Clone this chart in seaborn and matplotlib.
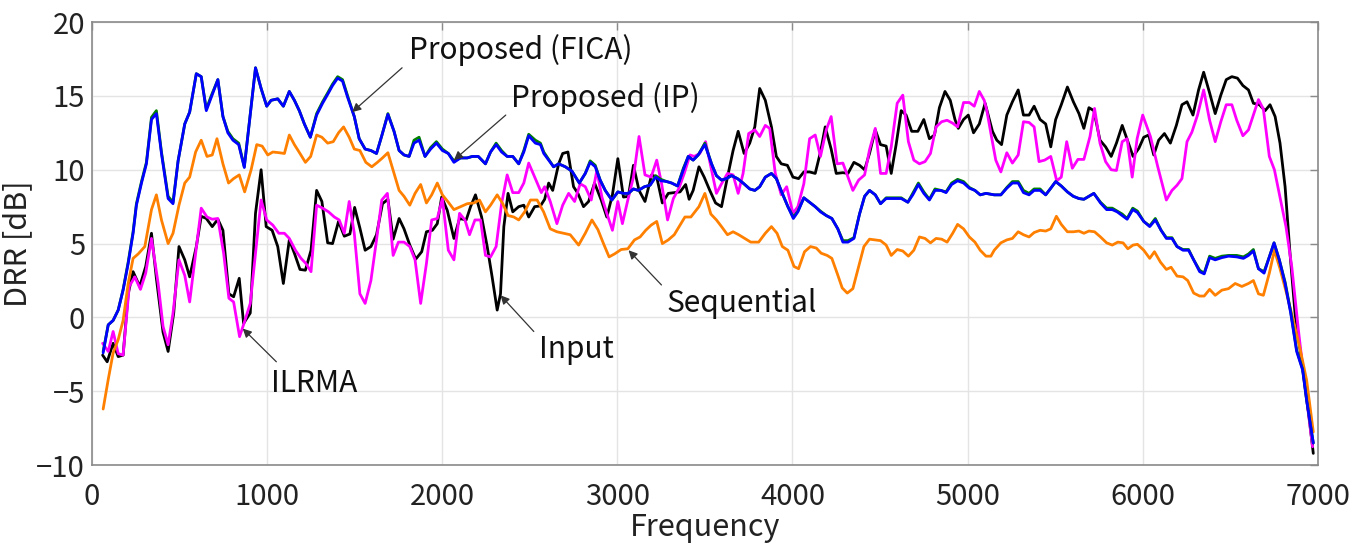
import numpy as np
import pandas as pd
import matplotlib
matplotlib.use("Agg")
import matplotlib.pyplot as plt
import seaborn as sns

# ---------------- data ----------------
freq_fica = [64, 93, 121, 150, 178, 207, 235, 254, 283, 311, 340, 368, 397, 435, 463, 492, 530, 558, 596, 624,
             653, 681, 719, 748, 776, 805, 838, 870, 934, 966, 998, 1023, 1061, 1093, 1127, 1156, 1184, 1213, 1247, 1283,
             1317, 1346, 1374, 1403, 1431, 1460, 1498, 1526, 1560, 1593, 1625, 1655, 1690, 1725, 1754, 1782, 1811, 1839, 1868, 1902,
             1934, 1967, 2001, 2035, 2067, 2105, 2143, 2172, 2206, 2247, 2276, 2308, 2339, 2371, 2403, 2437, 2466, 2494, 2532, 2561,
             2580, 2608, 2636, 2665, 2703, 2741, 2783, 2817, 2845, 2874, 2902, 2931, 2969, 3003, 3035, 3063, 3092, 3120, 3155, 3187,
             3219, 3249, 3282, 3310, 3344, 3377, 3405, 3433, 3462, 3500, 3538, 3566, 3595, 3623, 3652, 3686, 3718, 3756, 3785, 3813,
             3845, 3880, 3908, 3942, 3974, 4005, 4031, 4065, 4098, 4130, 4160, 4193, 4225, 4259, 4288, 4317, 4351, 4383, 4412, 4440,
             4473, 4503, 4535, 4573, 4621, 4659, 4687, 4719, 4750, 4782, 4814, 4848, 4877, 4909, 4943, 4977, 5010, 5042, 5072, 5105,
             5152, 5190, 5224, 5256, 5289, 5319, 5351, 5380, 5414, 5446, 5475, 5503, 5535, 5570, 5604, 5636, 5664, 5693, 5721, 5759,
             5794, 5826, 5854, 5883, 5911, 5943, 5970, 6006, 6040, 6072, 6105, 6135, 6167, 6196, 6230, 6262, 6291, 6325, 6351, 6382,
             6414, 6452, 6490, 6537, 6575, 6604, 6632, 6661, 6693, 6723, 6750, 6780, 6813, 6845, 6879, 6913, 6936, 6974]
drr_fica = [-2.4, -0.5, -0.2, 0.5, 1.85, 3.65, 5.7, 7.6, 9.1, 10.4, 13.4, 13.8, 11.1, 8.05, 7.7, 10.6, 13.1, 13.9, 16.5, 16.3,
            14.0, 14.9, 16.1, 13.6, 12.5, 12.0, 11.7, 10.15, 16.9, 15.5, 14.3, 14.7, 14.8, 14.3, 15.3, 14.7, 14.0, 13.1, 12.2, 13.7,
            14.5, 15.1, 15.7, 16.2, 16.0, 14.9, 13.6, 12.1, 11.4, 11.3, 11.1, 12.3, 13.75, 12.6, 11.3, 11.0, 10.9, 11.8, 12.0, 10.9,
            11.4, 11.8, 11.3, 11.1, 10.5, 10.8, 10.8, 10.9, 10.9, 10.4, 11.2, 11.7, 11.2, 10.9, 10.9, 10.4, 11.2, 12.3, 11.8, 11.7,
            11.1, 10.65, 10.2, 10.4, 10.2, 9.9, 9.1, 9.75, 10.5, 10.2, 9.3, 8.6, 7.95, 8.5, 8.4, 8.4, 8.7, 8.6, 8.85, 8.95,
            9.5, 9.25, 9.2, 9.1, 8.9, 10.0, 10.9, 10.65, 11.0, 11.7, 10.4, 9.6, 9.3, 9.4, 9.6, 9.4, 9.1, 8.7, 8.6, 8.85,
            9.5, 9.75, 9.4, 8.4, 7.5, 6.7, 7.15, 8.1, 7.8, 7.5, 7.15, 6.9, 6.7, 6.0, 5.1, 5.1, 5.35, 7.0, 8.2, 8.6,
            8.3, 7.7, 8.05, 8.05, 8.05, 7.8, 8.3, 9.0, 8.4, 7.95, 8.6, 8.6, 8.45, 9.0, 9.25, 9.1, 8.75, 8.6, 8.3, 8.4,
            8.3, 8.3, 8.75, 9.1, 9.1, 8.45, 8.3, 8.6, 8.6, 8.3, 8.75, 9.2, 8.9, 8.5, 8.2, 8.05, 8.0, 8.2, 8.4, 7.75,
            7.3, 7.3, 7.15, 6.9, 6.65, 7.3, 7.1, 6.5, 6.15, 6.6, 5.9, 5.35, 5.35, 4.8, 4.55, 4.55, 3.9, 3.1, 2.95, 4.05,
            3.9, 4.05, 4.15, 4.1, 4.0, 4.2, 4.5, 3.3, 3.0, 4.1, 5.05, 3.9, 2.3, 0.3, -2.3, -3.55, -5.6, -8.5]

freq_ip = freq_fica
drr_ip = [-2.3, -0.5, -0.2, 0.5, 1.9, 3.75, 5.8, 7.7, 9.2, 10.5, 13.55, 14.0, 11.2, 8.2, 7.8, 10.6, 13.1, 13.9, 16.5, 16.3,
          14.1, 15.0, 16.1, 13.6, 12.6, 12.1, 11.8, 10.2, 16.9, 15.5, 14.3, 14.7, 14.8, 14.3, 15.3, 14.7, 14.0, 13.1, 12.2, 13.8,
          14.6, 15.2, 15.8, 16.3, 16.1, 15.0, 13.6, 12.1, 11.4, 11.3, 11.1, 12.3, 13.8, 12.6, 11.3, 11.0, 10.9, 12.0, 12.2, 10.9,
          11.5, 11.9, 11.4, 11.1, 10.6, 10.8, 10.8, 10.9, 10.9, 10.4, 11.2, 11.8, 11.3, 10.9, 10.9, 10.4, 11.3, 12.4, 12.0, 11.8,
          11.2, 10.7, 10.2, 10.4, 10.2, 9.9, 9.1, 9.75, 10.6, 10.3, 9.3, 8.6, 7.95, 8.5, 8.4, 8.4, 8.7, 8.6, 8.85, 8.95,
          9.6, 9.35, 9.2, 9.1, 8.9, 10.1, 10.9, 10.65, 11.0, 11.8, 10.4, 9.6, 9.3, 9.4, 9.6, 9.4, 9.1, 8.7, 8.6, 8.85,
          9.5, 9.75, 9.4, 8.4, 7.5, 6.8, 7.2, 8.1, 7.8, 7.5, 7.2, 6.9, 6.7, 6.0, 5.2, 5.2, 5.4, 7.0, 8.2, 8.6,
          8.3, 7.7, 8.1, 8.1, 8.1, 7.8, 8.4, 9.1, 8.5, 8.0, 8.7, 8.6, 8.5, 9.1, 9.35, 9.2, 8.8, 8.6, 8.3, 8.4,
          8.3, 8.3, 8.8, 9.2, 9.2, 8.6, 8.4, 8.7, 8.7, 8.3, 8.75, 9.2, 8.9, 8.5, 8.2, 8.05, 8.0, 8.2, 8.4, 7.8,
          7.4, 7.4, 7.2, 7.0, 6.7, 7.4, 7.2, 6.5, 6.2, 6.7, 5.9, 5.4, 5.4, 4.8, 4.6, 4.6, 3.9, 3.2, 3.0, 4.15,
          4.0, 4.15, 4.2, 4.2, 4.1, 4.3, 4.6, 3.3, 3.1, 4.1, 5.05, 3.9, 2.4, 0.4, -2.2, -3.5, -5.6, -8.5]

freq_seq = [64, 93, 121, 150, 178, 207, 235, 264, 302, 340, 368, 397, 435, 463, 497, 530, 558, 592, 624, 657,
            687, 714, 748, 780, 809, 841, 872, 909, 941, 972, 1004, 1033, 1071, 1099, 1127, 1156, 1188, 1219, 1249, 1283,
            1313, 1346, 1378, 1408, 1437, 1469, 1498, 1530, 1564, 1598, 1630, 1659, 1690, 1725, 1754, 1782, 1815, 1845, 1877, 1910,
            1940, 1972, 2001, 2035, 2067, 2105, 2143, 2181, 2213, 2247, 2276, 2314, 2346, 2376, 2409, 2437, 2471, 2504, 2542, 2579,
            2617, 2655, 2693, 2731, 2779, 2817, 2855, 2889, 2921, 2953, 2984, 3022, 3060, 3098, 3130, 3162, 3193, 3225, 3257, 3291,
            3325, 3358, 3386, 3420, 3466, 3500, 3534, 3566, 3595, 3629, 3661, 3693, 3728, 3762, 3807, 3845, 3880, 3912, 3942, 3974,
            4009, 4035, 4069, 4103, 4136, 4164, 4198, 4225, 4258, 4284, 4313, 4345, 4378, 4408, 4440, 4473, 4503, 4535, 4564, 4598,
            4630, 4662, 4693, 4725, 4757, 4788, 4820, 4852, 4883, 4915, 4943, 4977, 5010, 5042, 5072, 5105, 5133, 5152, 5190, 5224,
            5256, 5289, 5319, 5351, 5380, 5414, 5446, 5475, 5507, 5535, 5570, 5604, 5636, 5664, 5693, 5725, 5759, 5794, 5826, 5858,
            5888, 5915, 5945, 5970, 6006, 6040, 6067, 6101, 6135, 6162, 6196, 6230, 6257, 6291, 6325, 6351, 6382, 6414, 6452, 6490,
            6528, 6566, 6604, 6632, 6661, 6689, 6723, 6752, 6784, 6822, 6860, 6898, 6936, 6974]
drr_seq = [-6.2, -4.2, -2.4, -1.5, -0.2, 2.3, 4.0, 4.3, 4.8, 7.3, 8.3, 6.6, 5.0, 5.7, 7.6, 9.1, 9.5, 11.2, 12.0, 10.9,
           11.0, 12.1, 10.4, 9.1, 9.4, 9.65, 8.5, 10.0, 11.7, 11.6, 11.0, 11.2, 11.15, 11.1, 12.35, 11.7, 11.1, 10.5, 10.9, 12.35,
           12.2, 11.8, 11.9, 12.5, 12.9, 12.2, 11.4, 11.3, 10.5, 10.2, 10.5, 10.8, 11.15, 9.75, 8.6, 8.2, 7.6, 8.4, 9.0, 7.75,
           8.3, 9.1, 8.3, 7.8, 7.3, 7.5, 7.7, 7.75, 7.95, 7.15, 7.6, 8.3, 7.7, 6.9, 6.8, 6.6, 7.15, 7.95, 7.95, 7.15,
           6.0, 5.8, 5.7, 5.6, 4.9, 5.7, 6.6, 5.95, 5.0, 4.1, 4.3, 4.6, 4.65, 5.25, 5.45, 5.9, 6.25, 6.5, 5.0, 5.25,
           5.6, 6.25, 6.8, 6.8, 7.5, 8.4, 7.0, 6.6, 6.15, 5.6, 5.8, 5.6, 5.35, 5.1, 5.1, 5.7, 6.15, 5.7, 4.8, 4.55,
           3.45, 3.3, 4.45, 4.8, 4.7, 4.35, 4.2, 4.0, 2.9, 2.0, 1.65, 1.95, 3.45, 4.8, 5.3, 5.25, 5.2, 4.9, 4.2, 4.6,
           4.5, 4.15, 4.55, 5.45, 5.35, 5.05, 5.35, 5.3, 5.1, 5.7, 6.3, 6.0, 5.45, 5.1, 4.55, 4.15, 4.15, 4.55, 5.05, 5.25,
           5.35, 5.8, 5.6, 5.45, 5.75, 5.9, 5.85, 6.0, 6.85, 6.3, 5.8, 5.8, 5.85, 5.7, 5.85, 5.8, 5.45, 5.05, 4.9, 5.1,
           5.05, 4.65, 4.9, 4.95, 4.55, 4.0, 4.45, 3.75, 3.25, 3.4, 2.8, 2.75, 2.5, 1.65, 1.45, 1.45, 1.9, 1.5, 1.85, 1.95,
           2.3, 2.1, 2.3, 2.5, 1.6, 1.5, 3.0, 4.55, 3.3, 1.6, -0.2, -2.1, -4.25, -7.75]

freq_input = [61, 87, 121, 150, 178, 207, 235, 273, 307, 340, 368, 406, 435, 467, 497, 530, 558, 596, 624, 653,
              687, 719, 748, 782, 809, 841, 866, 904, 934, 966, 995, 1029, 1061, 1093, 1127, 1156, 1188, 1219, 1251, 1283,
              1313, 1346, 1374, 1408, 1441, 1473, 1500, 1530, 1560, 1593, 1625, 1659, 1690, 1720, 1754, 1782, 1815, 1849, 1883, 1910,
              1944, 1972, 1997, 2029, 2067, 2099, 2137, 2162, 2190, 2225, 2257, 2285, 2314, 2333, 2352, 2376, 2403, 2437, 2466, 2494,
              2528, 2561, 2585, 2608, 2631, 2665, 2688, 2718, 2750, 2775, 2807, 2836, 2870, 2908, 2940, 2972, 3003, 3035, 3063, 3092,
              3124, 3158, 3196, 3225, 3257, 3291, 3325, 3358, 3390, 3410, 3433, 3466, 3496, 3528, 3561, 3595, 3629, 3661, 3690, 3724,
              3756, 3785, 3813, 3845, 3880, 3908, 3936, 3971, 4003, 4035, 4065, 4098, 4130, 4160, 4187, 4221, 4250, 4288, 4317, 4351,
              4383, 4412, 4440, 4473, 4503, 4535, 4564, 4592, 4621, 4649, 4681, 4716, 4750, 4782, 4811, 4839, 4871, 4901, 4928, 4947,
              4977, 5004, 5034, 5067, 5100, 5142, 5167, 5194, 5224, 5256, 5289, 5319, 5351, 5380, 5414, 5446, 5475, 5503, 5535, 5570,
              5604, 5636, 5664, 5693, 5721, 5756, 5788, 5820, 5850, 5883, 5911, 5945, 5978, 6006, 6034, 6063, 6091, 6124, 6158, 6192,
              6224, 6253, 6287, 6319, 6348, 6382, 6414, 6446, 6477, 6509, 6541, 6572, 6604, 6632, 6666, 6699, 6727, 6756, 6784, 6813,
              6841, 6870, 6902, 6936, 6974]
drr_input = [-2.55, -3.0, -1.75, -2.65, -2.55, 1.6, 3.1, 2.1, 3.45, 5.7, 2.65, -1.0, -2.3, 0.3, 4.8, 3.9, 2.75, 4.8, 6.85, 6.7,
             6.15, 6.65, 5.9, 1.6, 1.4, 2.65, -0.4, 0.3, 7.05, 10.0, 6.15, 5.9, 4.8, 2.3, 5.25, 4.35, 3.25, 3.2, 4.55, 8.6,
             7.85, 5.05, 5.0, 6.5, 5.5, 5.65, 7.45, 6.05, 4.55, 4.8, 5.6, 7.7, 8.0, 5.3, 6.7, 6.0, 4.9, 3.95, 4.45, 5.8,
             5.9, 6.35, 8.15, 7.25, 5.35, 6.7, 6.6, 7.5, 8.3, 6.8, 4.8, 2.75, 0.5, 1.6, 6.15, 8.4, 7.15, 7.5, 7.6, 6.8,
             7.5, 7.55, 8.0, 9.1, 8.6, 10.4, 11.1, 11.2, 8.85, 8.4, 7.5, 7.85, 9.1, 7.95, 6.8, 8.3, 10.75, 8.15, 8.2, 10.3,
             8.6, 7.85, 9.65, 9.5, 7.75, 8.4, 8.45, 8.5, 9.0, 8.0, 8.6, 10.2, 9.5, 8.6, 7.75, 7.5, 9.5, 11.3, 12.6, 11.1,
             11.8, 12.9, 15.5, 14.7, 12.9, 10.9, 10.4, 10.3, 9.5, 9.4, 9.85, 9.85, 9.75, 11.2, 12.9, 11.4, 9.75, 9.8, 9.75, 10.5,
             10.3, 10.0, 11.1, 12.7, 11.7, 11.6, 9.75, 11.7, 14.0, 13.7, 12.6, 12.6, 13.4, 12.1, 12.35, 14.2, 15.3, 14.7, 13.4, 12.8,
             13.4, 13.7, 12.5, 13.1, 14.5, 12.6, 12.0, 11.7, 13.7, 14.6, 15.4, 13.7, 13.7, 14.3, 13.4, 13.1, 11.55, 13.4, 14.4, 15.6,
             14.6, 13.8, 12.8, 14.2, 14.0, 12.0, 11.55, 10.9, 11.8, 13.0, 12.05, 10.9, 11.45, 12.2, 12.35, 11.0, 12.0, 12.45, 11.8, 13.0,
             14.4, 14.6, 13.7, 15.4, 16.6, 15.2, 13.8, 15.05, 16.1, 16.3, 16.2, 15.7, 15.4, 14.5, 14.4, 14.0, 14.4, 13.6, 11.8, 8.85,
             4.35, 0.25, -2.45, -5.35, -9.2]

freq_ilrma = [61, 93, 121, 150, 178, 213, 245, 277, 307, 340, 378, 406, 435, 463, 497, 530, 558, 592, 624, 657,
              687, 719, 752, 782, 809, 843, 871, 904, 934, 966, 998, 1033, 1067, 1099, 1127, 1162, 1194, 1222, 1251, 1283,
              1317, 1351, 1384, 1412, 1441, 1469, 1498, 1530, 1560, 1593, 1625, 1655, 1687, 1720, 1750, 1782, 1815, 1845, 1877, 1910,
              1940, 1972, 2001, 2035, 2067, 2099, 2130, 2156, 2187, 2219, 2247, 2276, 2308, 2339, 2371, 2403, 2437, 2466, 2494, 2532,
              2566, 2585, 2617, 2655, 2688, 2722, 2756, 2788, 2817, 2851, 2883, 2912, 2940, 2972, 3003, 3029, 3060, 3092, 3124, 3158,
              3193, 3225, 3253, 3287, 3320, 3352, 3382, 3415, 3439, 3471, 3504, 3534, 3566, 3595, 3629, 3661, 3690, 3718, 3750, 3785,
              3813, 3845, 3870, 3902, 3936, 3967, 4003, 4031, 4065, 4098, 4130, 4160, 4193, 4221, 4255, 4288, 4317, 4345, 4378, 4412,
              4440, 4473, 4503, 4535, 4564, 4598, 4630, 4662, 4693, 4725, 4757, 4788, 4820, 4852, 4883, 4915, 4943, 4977, 5010, 5038,
              5067, 5095, 5110, 5137, 5161, 5190, 5224, 5256, 5289, 5319, 5351, 5380, 5408, 5440, 5475, 5509, 5535, 5566, 5598, 5630,
              5664, 5699, 5725, 5756, 5788, 5820, 5850, 5883, 5911, 5940, 5968, 6000, 6044, 6086, 6135, 6167, 6196, 6224, 6253, 6281,
              6313, 6348, 6382, 6414, 6446, 6477, 6509, 6537, 6572, 6604, 6632, 6661, 6689, 6723, 6752, 6784, 6818, 6851, 6889, 6927,
              6970]
drr_ilrma = [-1.75, -2.3, -0.95, -2.45, -2.55, 2.1, 2.75, 1.9, 3.0, 5.35, 2.3, -0.6, -1.85, 0.3, 3.9, 2.85, 1.05, 4.35, 7.4, 6.8,
             6.65, 6.7, 4.35, 1.3, 1.05, -1.3, -0.3, 0.95, 4.35, 7.95, 6.6, 6.25, 5.7, 5.7, 5.35, 4.55, 4.0, 3.65, 3.1, 7.6,
             7.4, 7.15, 6.8, 6.6, 5.7, 7.85, 5.7, 1.6, 0.95, 2.5, 5.25, 7.95, 8.4, 4.2, 5.1, 5.1, 4.8, 3.9, 0.95, 3.65,
             6.6, 6.7, 8.05, 4.55, 3.9, 7.05, 6.6, 5.6, 6.6, 6.6, 4.2, 4.1, 4.8, 7.7, 9.65, 8.45, 8.45, 9.1, 10.45, 9.4,
             8.45, 8.85, 7.85, 6.35, 7.6, 8.4, 7.85, 9.05, 8.85, 7.95, 9.95, 8.15, 7.05, 5.9, 7.85, 6.35, 7.95, 9.5, 12.25, 9.65,
             9.5, 10.65, 9.05, 6.6, 8.05, 8.75, 9.75, 11.0, 10.9, 11.1, 11.9, 10.2, 8.4, 9.05, 9.75, 9.65, 8.4, 9.75, 12.45, 12.7,
             12.25, 13.0, 12.8, 9.75, 8.3, 8.85, 7.05, 7.5, 9.05, 12.1, 12.35, 10.9, 12.7, 13.6, 10.4, 10.45, 9.5, 8.6, 9.3, 9.65,
             11.35, 12.8, 9.75, 9.75, 11.55, 14.5, 15.05, 11.9, 10.65, 10.4, 10.55, 11.1, 12.9, 13.25, 13.35, 13.15, 12.9, 14.55, 14.55, 14.3,
             15.3, 14.7, 14.0, 12.2, 10.65, 9.85, 11.15, 10.45, 11.0, 13.25, 13.2, 12.9, 10.55, 10.65, 10.9, 9.25, 9.5, 11.9, 10.1, 10.7,
             10.7, 12.25, 14.15, 11.8, 10.55, 10.0, 9.95, 11.9, 12.1, 9.5, 12.1, 13.7, 12.25, 10.2, 7.95, 8.6, 8.95, 9.4, 11.9, 12.55,
             13.7, 15.4, 13.35, 11.9, 13.25, 14.4, 14.4, 13.35, 12.3, 12.7, 13.7, 14.75, 14.1, 10.9, 10.0, 8.15, 6.15, 3.45, -0.85, -4.7,
             -8.75]

methods = ["Input", "ILRMA", "Sequential", "Proposed (IP)", "Proposed (FICA)"]
colors = {"Input": "#000000", "ILRMA": "#FF00FF", "Sequential": "#FF8000",
          "Proposed (IP)": "#008000", "Proposed (FICA)": "#0000FF"}
x_ticks = [0, 1000, 2000, 3000, 4000, 5000, 6000, 7000]
y_ticks = [-10, -5, 0, 5, 10, 15, 20]

series = {"Input": (freq_input, drr_input), "ILRMA": (freq_ilrma, drr_ilrma),
          "Sequential": (freq_seq, drr_seq), "Proposed (IP)": (freq_ip, drr_ip),
          "Proposed (FICA)": (freq_fica, drr_fica)}
df = pd.concat([pd.DataFrame({"Frequency": f, "DRR": d, "method": m}) for m, (f, d) in series.items()],
               ignore_index=True)

# ---------------- plot ----------------
sns.set_style("white")
plt.rcParams["font.family"] = ["Noto Sans CJK JP", "DejaVu Sans"]

fig = plt.figure(figsize=(13.6, 5.46), dpi=100)
ax = fig.add_axes([0.0676, 0.148, 0.9014, 0.8117])

sns.lineplot(data=df, x="Frequency", y="DRR", hue="method", hue_order=methods, palette=colors,
             estimator=None, sort=False, linewidth=2.0, legend=False, ax=ax)

ax.set_xlim(0, 7000)
ax.set_ylim(-10, 20)
ax.set_xticks(x_ticks)
ax.set_yticks(y_ticks)
ax.grid(True, color="#e4e4e4", linewidth=1.0)
ax.set_axisbelow(True)
for s in ax.spines.values():
    s.set_color("#8a8a8a")
    s.set_linewidth(1.2)
ax.tick_params(direction="in", top=True, right=True, length=6, width=1, color="#8a8a8a",
               labelsize=21, labelcolor="#222222", pad=5)
ax.tick_params(axis="x", pad=12)
ax.set_xlabel("Frequency", fontsize=22, color="#222222", labelpad=0)
ax.set_ylabel("DRR [dB]", fontsize=22, color="#222222", labelpad=2)

arrow_kw = dict(arrowstyle="-|>", color="#333333", lw=0.9, mutation_scale=13, shrinkA=0, shrinkB=0)
notes = [
    ("Proposed (FICA)", (1811, 18.1), (1771, 16.9), (1486, 13.9)),
    ("Proposed (IP)", (2392, 14.85), (2363, 13.7), (2067, 10.65)),
    ("Sequential", (3280, 0.97), (3252, 2.2), (3064, 4.55)),
    ("Input", (2551, -2.2), (2523, -0.95), (2333, 1.5)),
    ("ILRMA", (1025, -4.45), (1053, -3.0), (861, -0.75)),
]
for label, tpos, tail, head in notes:
    ax.annotate("", xy=head, xytext=tail, arrowprops=arrow_kw)
    ax.text(tpos[0], tpos[1], label, fontsize=21.5, color="#111111", ha="left", va="center")

fig.savefig("out.png", dpi=100)
